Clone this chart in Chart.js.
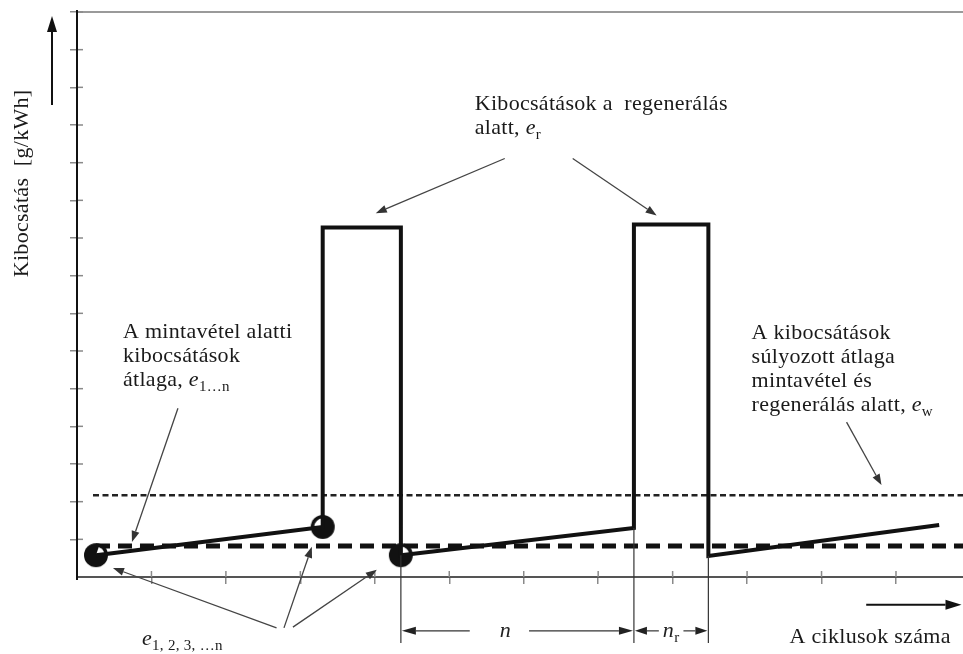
<!DOCTYPE html>
<html><head><meta charset="utf-8">
<script src="https://cdn.jsdelivr.net/npm/chart.js@4.4.0/dist/chart.umd.min.js"></script>
<style>html,body{margin:0;padding:0;background:#fff;overflow:hidden}#wrap{width:963px;height:654px;position:relative}canvas{display:block}</style>
</head><body><div id="wrap"><canvas id="c" width="963" height="654"></canvas></div>
<script>
// ---- data (schematic units: x = cycles, y = emission) ----
const cycleX      = [0.255, 3.30, 3.30, 4.35, 4.35, 7.48, 7.48, 8.48, 8.48, 11.58];
const emissionY   = [0.58, 1.33, 9.28, 9.28, 0.58, 1.30, 9.36, 9.36, 0.56, 1.38];
const sampleX     = [0.255, 3.30, 4.35];
const sampleY     = [0.58, 1.33, 0.58];
const meanLevel     = 0.82;   // e_1...n
const weightedLevel = 2.17;   // e_w
const meanStartX    = 0.255;
const weightedStartX= 0.215;
const xMax = 11.9, yMax = 15;
const xTickValues = [1,2,3,4,5,6,7,8,9,10,11];
const yTickValues = [1,2,3,4,5,6,7,8,9,10,11,12,13,14,15];
const nStartX = 4.35, nEndX = 7.48, nrEndX = 8.48;

const FONT = "'Liberation Serif','DejaVu Serif',serif";
const FS = 22;

function makeDot(a0, a1) {
  const c = document.createElement('canvas'); c.width = 26; c.height = 26;
  const g = c.getContext('2d');
  g.fillStyle = '#111'; g.beginPath(); g.arc(13,13,12,0,Math.PI*2); g.fill();
  g.fillStyle = '#fff'; g.beginPath(); g.moveTo(13,13); g.arc(13,13,8.5,a0,a1); g.closePath(); g.fill();
  return c;
}
const dots = [makeDot(-1.25, -0.05), makeDot(Math.PI+0.02, Math.PI*1.5), makeDot(-Math.PI/2, -0.07)];

function rich(ctx, parts, x, y) {
  let cx = x;
  for (const p of parts) {
    const fs = p.sub ? Math.round(FS*0.7) : FS;
    ctx.font = (p.it ? 'italic ' : '') + fs + 'px ' + FONT;
    ctx.fillText(p.t, cx, y + (p.sub ? 5 : 0));
    cx += ctx.measureText(p.t).width;
  }
  return cx - x;
}
function arrow(ctx, x1, y1, x2, y2, hl, hw) {
  hl = hl || 11; hw = hw || 4;
  const a = Math.atan2(y2-y1, x2-x1);
  const bx = x2 - hl*Math.cos(a), by = y2 - hl*Math.sin(a);
  ctx.beginPath(); ctx.moveTo(x1,y1); ctx.lineTo(bx,by); ctx.stroke();
  ctx.beginPath(); ctx.moveTo(x2,y2);
  ctx.lineTo(bx + hw*Math.sin(a), by - hw*Math.cos(a));
  ctx.lineTo(bx - hw*Math.sin(a), by + hw*Math.cos(a));
  ctx.closePath(); ctx.fill();
}

const annot = {
  id: 'annot',
  afterDraw(chart) {
    const ctx = chart.ctx, xs = chart.scales.x, ys = chart.scales.y, ca = chart.chartArea;
    const X = v => xs.getPixelForValue(v), Y = v => ys.getPixelForValue(v);
    ctx.save();
    try { ctx.letterSpacing = '0.3px'; } catch (e) {}
    // top border
    ctx.strokeStyle = '#9a9a9a'; ctx.lineWidth = 2;
    ctx.beginPath(); ctx.moveTo(ca.left, ca.top); ctx.lineTo(chart.width, ca.top); ctx.stroke();
    // inner halves of tick marks
    ctx.strokeStyle = '#8a8a8a'; ctx.lineWidth = 1.5;
    ys.ticks.forEach(t => { const p = Y(t.value); ctx.beginPath(); ctx.moveTo(ca.left, p); ctx.lineTo(ca.left+6, p); ctx.stroke(); });
    xs.ticks.forEach(t => { const p = X(t.value); ctx.beginPath(); ctx.moveTo(p, ca.bottom); ctx.lineTo(p, ca.bottom-6); ctx.stroke(); });
    // left axis extension
    ctx.strokeStyle = '#111'; ctx.lineWidth = 2;
    ctx.beginPath(); ctx.moveTo(ca.left, ca.top-2); ctx.lineTo(ca.left, ca.bottom+3); ctx.stroke();

    // dimension lines
    ctx.strokeStyle = '#333'; ctx.fillStyle = '#222'; ctx.lineWidth = 1.2;
    const dimBottom = Y(-1.75), dimY = Y(-1.43);
    [[nStartX, 0.58], [nEndX, 1.30], [nrEndX, 0.56]].forEach(([vx, vy]) => {
      ctx.beginPath(); ctx.moveTo(X(vx), Y(vy)); ctx.lineTo(X(vx), dimBottom); ctx.stroke();
    });
    // n
    ctx.font = 'italic ' + FS + 'px ' + FONT;
    const nW = ctx.measureText('n').width;
    const nMid = (X(nStartX) + X(nEndX)) / 2;
    ctx.fillText('n', nMid - nW/2 - 12, dimY + 6);
    arrow(ctx, nMid - nW/2 - 42, dimY, X(nStartX)+1, dimY, 14, 4);
    arrow(ctx, nMid + nW/2 + 6, dimY, X(nEndX)-1, dimY, 14, 4);
    // n_r
    const rMid = (X(nEndX) + X(nrEndX)) / 2;
    ctx.font = 'italic ' + FS + 'px ' + FONT;
    const w1 = ctx.measureText('n').width;
    ctx.font = Math.round(FS*0.7) + 'px ' + FONT;
    const w2 = ctx.measureText('r').width;
    const rStart = rMid - (w1+w2)/2;
    rich(ctx, [{t:'n', it:true}, {t:'r', sub:true}], rStart, dimY + 6);
    arrow(ctx, rStart - 4, dimY, X(nEndX)+1, dimY, 12, 4);
    arrow(ctx, rStart + w1 + w2 + 4, dimY, X(nrEndX)-1, dimY, 12, 4);

    // axis arrows
    ctx.strokeStyle = '#111'; ctx.fillStyle = '#111'; ctx.lineWidth = 2;
    arrow(ctx, ca.left - 25, 105, ca.left - 25, 16, 16, 5);
    arrow(ctx, X(10.6), Y(-0.74), X(11.88), Y(-0.74), 16, 5);

    // annotation arrows
    ctx.strokeStyle = '#444'; ctx.fillStyle = '#333'; ctx.lineWidth = 1.3;
    arrow(ctx, X(5.745), Y(11.11), X(4.013), Y(9.66));
    arrow(ctx, X(6.658), Y(11.11), X(7.785), Y(9.60));
    arrow(ctx, X(1.356), Y(4.48), X(0.738), Y(0.93));
    arrow(ctx, X(10.336), Y(4.11), X(10.805), Y(2.44));
    arrow(ctx, X(2.68), Y(-1.35), X(0.483), Y(0.24));
    arrow(ctx, X(2.78), Y(-1.35), X(3.154), Y(0.80));
    arrow(ctx, X(2.90), Y(-1.33), X(4.027), Y(0.19));

    // texts
    ctx.fillStyle = '#1a1a1a'; ctx.textBaseline = 'alphabetic';
    const LH = 24;
    let bx = X(5.342), by = Y(12.41);
    rich(ctx, [{t:'Kibocsátások a  regenerálás'}], bx, by);
    rich(ctx, [{t:'alatt, '}, {t:'e', it:true}, {t:'r', sub:true}], bx, by + LH);
    bx = X(0.617); by = Y(6.34);
    rich(ctx, [{t:'A mintavétel alatti'}], bx, by);
    rich(ctx, [{t:'kibocsátások'}], bx, by + LH);
    rich(ctx, [{t:'átlaga, '}, {t:'e', it:true}, {t:'1…n', sub:true}], bx, by + 2*LH);
    bx = X(9.06); by = Y(6.31);
    rich(ctx, [{t:'A kibocsátások'}], bx, by);
    rich(ctx, [{t:'súlyozott átlaga'}], bx, by + LH);
    rich(ctx, [{t:'mintavétel és'}], bx, by + 2*LH);
    rich(ctx, [{t:'regenerálás alatt, '}, {t:'e', it:true}, {t:'w', sub:true}], bx, by + 3*LH);
    rich(ctx, [{t:'e', it:true}, {t:'1, 2, 3, …n', sub:true}], X(0.872), Y(-1.80));
    rich(ctx, [{t:'A ciklusok száma'}], X(9.57), Y(-1.75));
    // y title
    ctx.save();
    ctx.translate(ca.left - 49, Y(10.45));
    ctx.rotate(-Math.PI/2);
    ctx.font = FS + 'px ' + FONT; ctx.textAlign = 'center';
    ctx.fillText('Kibocsátás  [g/kWh]', 0, 0);
    ctx.restore();
    ctx.restore();
  }
};

new Chart(document.getElementById('c'), {
  type: 'line',
  data: {
    datasets: [
      { label: 'main', data: cycleX.map((x,i)=>({x, y: emissionY[i]})), borderColor: '#111', borderWidth: 4,
        pointRadius: 0, tension: 0, borderJoinStyle: 'miter', order: 0, fill: false },
      { label: 'samples', data: sampleX.map((x,i)=>({x, y: sampleY[i]})), showLine: false,
        pointStyle: dots, pointRadius: 12, order: 1, clip: false },
      { label: 'mean', data: [{x: meanStartX, y: meanLevel}, {x: xMax, y: meanLevel}], borderColor: '#111',
        borderWidth: 5, borderDash: [14, 8], pointRadius: 0, order: 2, fill: false },
      { label: 'weighted', data: [{x: weightedStartX, y: weightedLevel}, {x: xMax, y: weightedLevel}], borderColor: '#222',
        borderWidth: 2.5, borderDash: [6, 3.5], pointRadius: 0, order: 2, fill: false }
    ]
  },
  options: {
    responsive: false, animation: false, devicePixelRatio: 1,
    layout: { autoPadding: false, padding: { left: 70, top: 12, right: 0, bottom: 70 } },
    plugins: { legend: { display: false }, tooltip: { enabled: false } },
    scales: {
      x: { type: 'linear', min: 0, max: xMax,
        afterBuildTicks: s => { s.ticks = xTickValues.map(v => ({ value: v })); },
        ticks: { display: false },
        grid: { drawOnChartArea: false, drawTicks: true, tickLength: 7, color: '#8a8a8a', lineWidth: 1.5 },
        border: { color: '#555', width: 2 } },
      y: { type: 'linear', min: 0, max: yMax,
        afterBuildTicks: s => { s.ticks = yTickValues.map(v => ({ value: v })); },
        ticks: { display: false },
        grid: { drawOnChartArea: false, drawTicks: true, tickLength: 7, color: '#8a8a8a', lineWidth: 1.5 },
        border: { color: '#111', width: 2 } }
    }
  },
  plugins: [annot]
});
</script></body></html>
